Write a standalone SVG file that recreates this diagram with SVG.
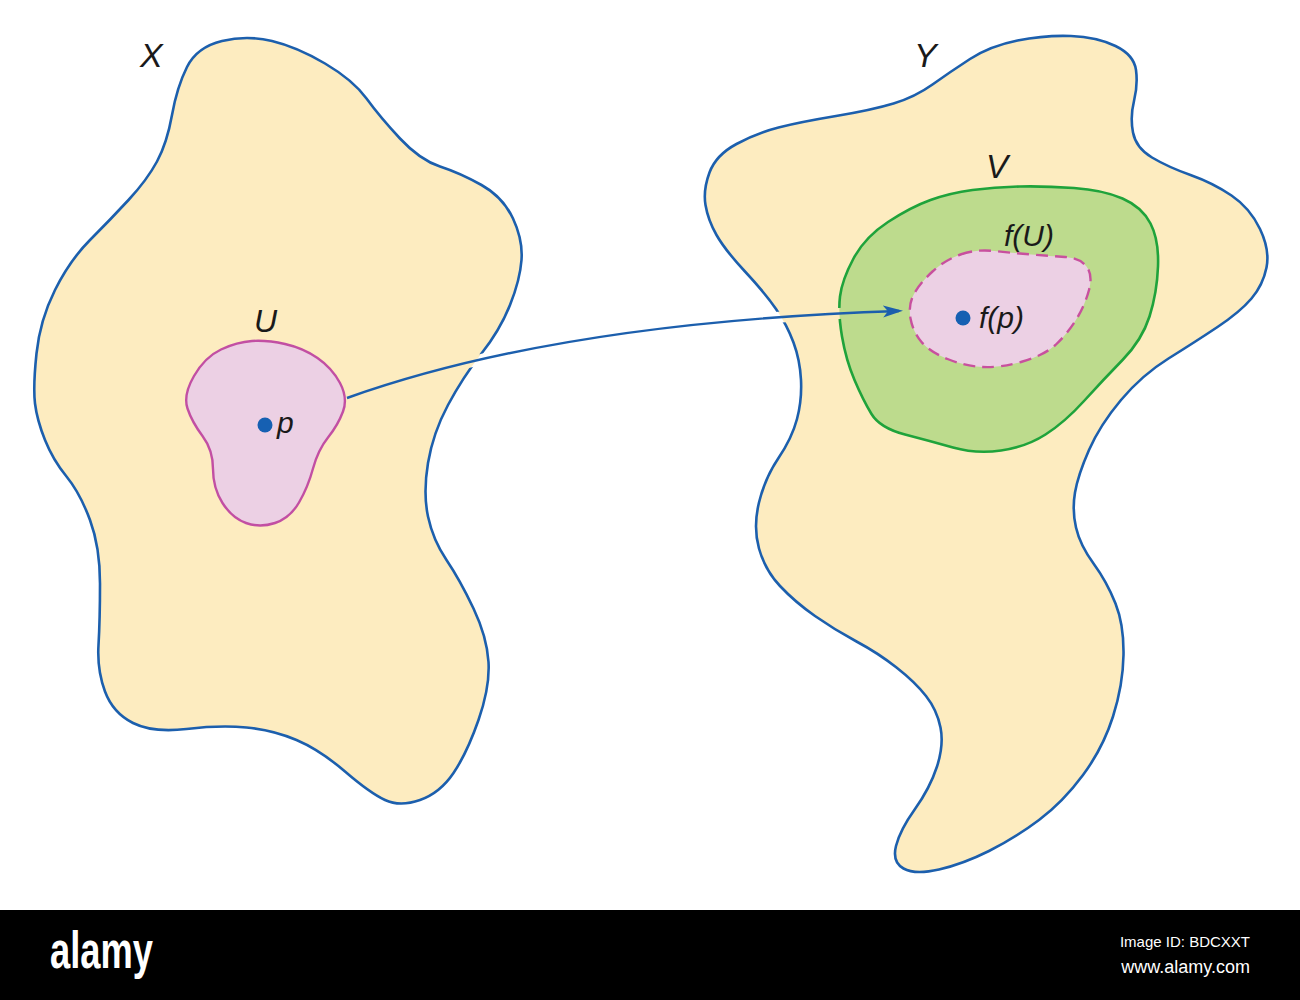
<svg xmlns="http://www.w3.org/2000/svg" width="1300" height="1000" viewBox="0 0 1300 1000">
<defs>
<style>
.space{fill:#fdecc0;stroke:none}
.border{fill:none;stroke:#1c5fad;stroke-width:2.6}
.pinkfill{fill:#ecd0e4}
.ustroke{fill:none;stroke:#c24fa3;stroke-width:2.4}
.dash{fill:none;stroke:#c8509e;stroke-width:2.4;stroke-dasharray:12 7}
.vfill{fill:#bddb8d}
.vstroke{fill:none;stroke:#1fa33b;stroke-width:2.6}
.dot{fill:#1660b2}
.lbl{font-family:"Liberation Sans","DejaVu Sans",sans-serif;font-style:italic;fill:#1a1a1a}
.arrow{fill:none;stroke:#1c5fad;stroke-width:2.4}
</style>
<marker id="ah" markerUnits="userSpaceOnUse" markerWidth="22" markerHeight="14" refX="16" refY="6" orient="auto" viewBox="0 0 22 14">
<path d="M0,0 L20,6 L0,12 L5,6 Z" fill="#1c5fad"/>
</marker>
<path id="arrowPath" d="M347,398 Q560,322 899,311"/>
<mask id="gap" maskUnits="userSpaceOnUse" x="0" y="0" width="1300" height="1000">
<rect x="0" y="0" width="1300" height="1000" fill="#fff"/>
<use href="#arrowPath" fill="none" stroke="#000" stroke-width="11"/>
</mask>
<path id="xShape" d="M187,67 Q197,47 222,41 Q247,35 272,41 Q297,47 325,63.5 Q353,80 366.5,98.5 Q380,117 400,138.5 Q420,160 440,166.5 Q460,173 481.5,185 Q503,197 513,218.5 Q523,240 521.5,260 Q520,280 510,305 Q500,330 481.5,353.5 Q463,377 448,405 Q433,433 428,463 Q423,493 428,516.5 Q433,540 446.5,560 Q460,580 473.5,608.5 Q487,637 488.5,662 Q490,687 478.5,720 Q467,753 453.5,773 Q440,793 420,800 Q400,807 385,800 Q370,793 345,771.5 Q320,750 296.5,740 Q273,730 246.5,727.5 Q220,725 186.5,729 Q153,733 133,723 Q113,713 105,691.5 Q97,670 98.5,645 Q100,620 100,583.5 Q100,547 90,520 Q80,493 66.5,476.5 Q53,460 45,440 Q37,420 35,403.5 Q33,387 36.5,353.5 Q40,320 55,290 Q70,260 90,240 Q110,220 128.5,200 Q147,180 157,161.5 Q167,143 172,115 Q177,87 187,67 Z"/>
<path id="yShape" d="M705.5,205 Q703,190 709.5,172.5 Q716,155 736.5,144 Q757,133 778.5,127.5 Q800,122 836,116 Q872,110 893.5,103.5 Q915,97 932.5,84.5 Q950,72 970,59 Q990,46 1017.5,40.5 Q1045,35 1071,36 Q1097,37 1115.5,46 Q1134,55 1136,70 Q1138,85 1134,101 Q1130,117 1133,132.5 Q1136,148 1152,157.5 Q1168,167 1190.5,175 Q1213,183 1231.5,195.5 Q1250,208 1260,229 Q1270,250 1266.5,267.5 Q1263,285 1251.5,298.5 Q1240,312 1217.5,327 Q1195,342 1168.5,358.5 Q1142,375 1121,400 Q1100,425 1089,450 Q1078,475 1075,492.5 Q1072,510 1076,527.5 Q1080,545 1093.5,563.5 Q1107,582 1115.5,603.5 Q1124,625 1123.5,655 Q1123,685 1113,716.5 Q1103,748 1083,775 Q1063,802 1039,820 Q1015,838 989,851 Q963,864 939,869.5 Q915,875 903.5,868.5 Q892,862 896,846 Q900,830 915,809 Q930,788 937,766.5 Q944,745 940.5,727.5 Q937,710 926,696 Q915,682 896.5,667.5 Q878,653 856.5,641.5 Q835,630 815,616 Q795,602 780,586 Q765,570 759,548.5 Q753,527 759,502.5 Q765,478 778.5,458 Q792,438 797,419 Q802,400 801,380 Q800,360 793.5,342.5 Q787,325 776,309 Q765,293 745,271.5 Q725,250 716.5,235 Q708,220 705.5,205 Z"/>
<path id="vShape" d="M972.5,190 Q995,187 1020,186.5 Q1045,186 1074,188 Q1103,190 1122.5,198.5 Q1142,207 1150.5,223.5 Q1159,240 1158,266.5 Q1157,293 1149.5,316.5 Q1142,340 1122.5,360 Q1103,380 1084,401 Q1065,422 1045.5,434.5 Q1026,447 1001,450.5 Q976,454 953,447.5 Q930,441 905,434.5 Q880,428 871.5,414 Q863,400 854.5,380 Q846,360 842,336.5 Q838,313 840,296.5 Q842,280 853.5,258.5 Q865,237 888,222 Q911,207 930.5,200 Q950,193 972.5,190 Z"/>
</defs>
<rect x="0" y="0" width="1300" height="1000" fill="#ffffff"/>

<g id="node-X">
<use href="#xShape" class="space"/>
<use href="#xShape" class="border" mask="url(#gap)"/>
<text class="lbl" x="140" y="67" font-size="34">X</text>
</g>

<g id="node-U">
<path class="pinkfill" d="M252,341 Q267,340 285,344 Q303,348 317.5,358 Q332,368 340,383 Q348,398 343,411.5 Q338,425 328,437.5 Q318,450 313,468.5 Q308,487 299,502.5 Q290,518 275,523 Q260,528 246,523 Q232,518 222.5,503 Q213,488 213,469 Q213,450 202.5,436 Q192,422 187.5,408.5 Q183,395 194,376 Q205,357 221,349.5 Q237,342 252,341 Z"/>
<path class="ustroke" d="M252,341 Q267,340 285,344 Q303,348 317.5,358 Q332,368 340,383 Q348,398 343,411.5 Q338,425 328,437.5 Q318,450 313,468.5 Q308,487 299,502.5 Q290,518 275,523 Q260,528 246,523 Q232,518 222.5,503 Q213,488 213,469 Q213,450 202.5,436 Q192,422 187.5,408.5 Q183,395 194,376 Q205,357 221,349.5 Q237,342 252,341 Z"/>
<text class="lbl" x="254" y="332" font-size="32">U</text>
<circle class="dot" cx="265" cy="425" r="7.5"/>
<text class="lbl" x="277" y="433" font-size="30">p</text>
</g>

<g id="node-Y">
<use href="#yShape" class="space"/>
<use href="#yShape" class="border" mask="url(#gap)"/>
<text class="lbl" x="914" y="67" font-size="34">Y</text>
</g>

<g id="node-V">
<use href="#vShape" class="vfill"/>
<use href="#vShape" class="vstroke" mask="url(#gap)"/>
<text class="lbl" x="986" y="178" font-size="33">V</text>
</g>

<g id="node-fU">
<path class="pinkfill" d="M960.5,254.5 Q976,249 994.5,251 Q1013,253 1031.5,254.5 Q1050,256 1065,257 Q1080,258 1086.5,266.5 Q1093,275 1089,290 Q1085,305 1076.5,319 Q1068,333 1056.5,344 Q1045,355 1022.5,361.5 Q1000,368 982.5,367 Q965,366 947.5,359 Q930,352 921.5,342 Q913,332 910.5,318.5 Q908,305 914,294 Q920,283 932.5,271.5 Q945,260 960.5,254.5 Z"/>
<path class="dash" d="M960.5,254.5 Q976,249 994.5,251 Q1013,253 1031.5,254.5 Q1050,256 1065,257 Q1080,258 1086.5,266.5 Q1093,275 1089,290 Q1085,305 1076.5,319 Q1068,333 1056.5,344 Q1045,355 1022.5,361.5 Q1000,368 982.5,367 Q965,366 947.5,359 Q930,352 921.5,342 Q913,332 910.5,318.5 Q908,305 914,294 Q920,283 932.5,271.5 Q945,260 960.5,254.5 Z"/>
<text class="lbl" x="1004" y="246" font-size="30">f(U)</text>
<circle class="dot" cx="963" cy="318" r="7.5"/>
<text class="lbl" x="979" y="328" font-size="30">f(p)</text>
</g>

<g id="connectors">
<use href="#arrowPath" class="arrow" marker-end="url(#ah)"/>
</g>

<g id="footer">
<rect x="0" y="910" width="1300" height="90" fill="#000000"/>
<text x="50" y="968" font-family="'Liberation Sans Narrow','Liberation Sans',sans-serif" font-weight="bold" font-size="52" fill="#ffffff" textLength="103" lengthAdjust="spacingAndGlyphs">alamy</text>
<text x="1250" y="947" text-anchor="end" font-family="'Liberation Sans Narrow','Liberation Sans',sans-serif" font-size="15" fill="#ffffff">Image ID: BDCXXT</text>
<text x="1250" y="973" text-anchor="end" font-family="'Liberation Sans Narrow','Liberation Sans',sans-serif" font-size="18" fill="#ffffff">www.alamy.com</text>
</g>
</svg>
